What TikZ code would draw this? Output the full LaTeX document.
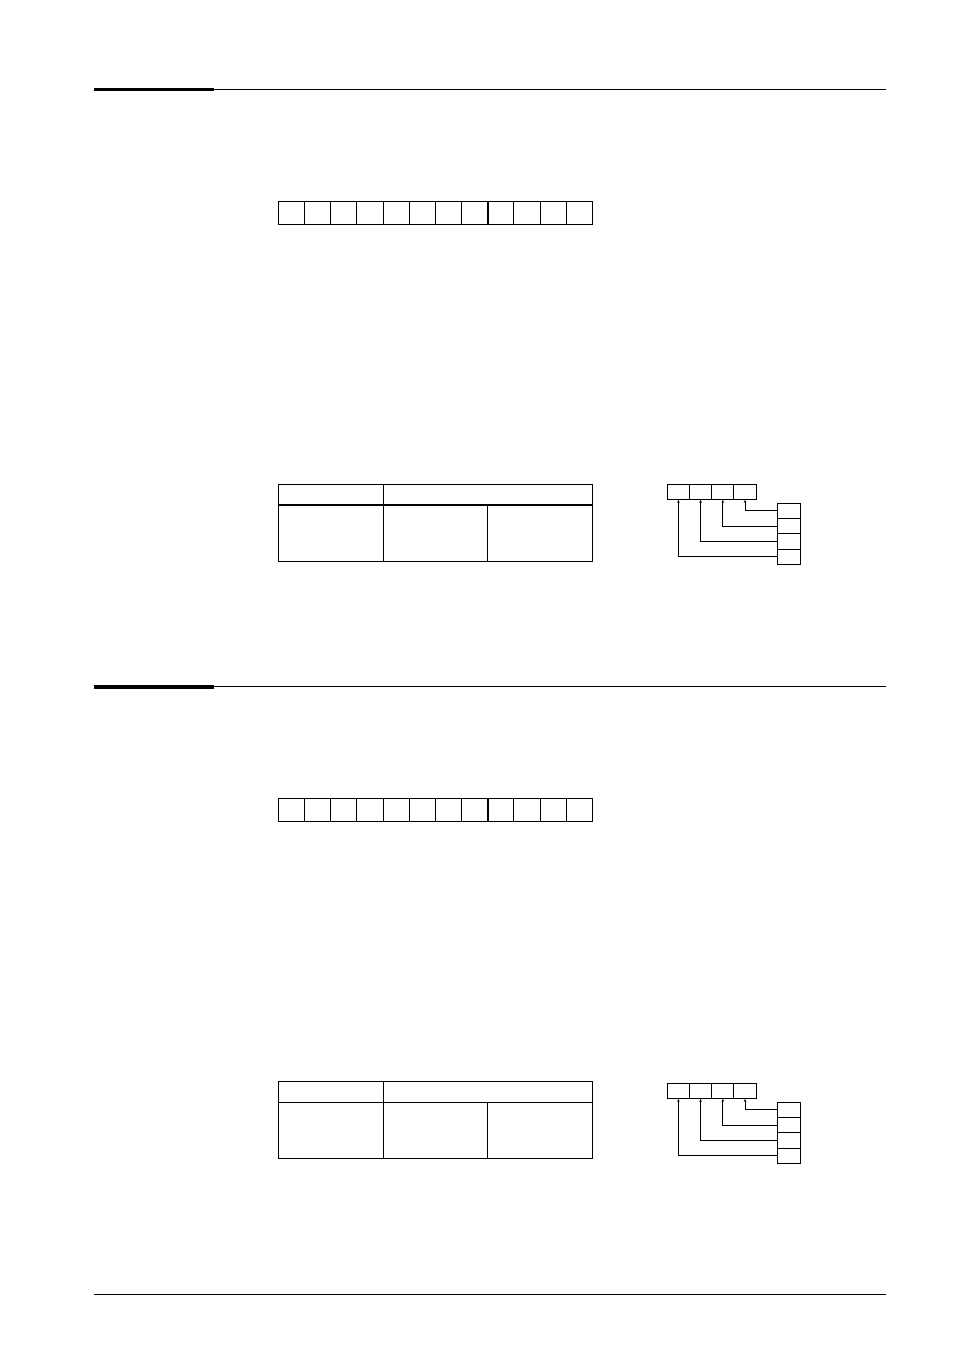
\documentclass[tikz,border=0pt]{standalone}
\usetikzlibrary{arrows.meta}
\begin{document}
\begin{tikzpicture}[x=1pt,y=-1pt,
  thin line/.style={line width=0.9pt},
  thick bar/.style={line width=3.6pt},
  cellbox/.style={draw,line width=0.9pt,minimum width=26.17pt,minimum height=22.7pt,inner sep=0pt,outer sep=0pt},
  smallbox/.style={draw,line width=0.9pt,minimum width=22.2pt,minimum height=15.6pt,inner sep=0pt,outer sep=0pt},
  stackbox/.style={draw,line width=0.9pt,minimum width=22.6pt,minimum height=15.25pt,inner sep=0pt,outer sep=0pt},
  link/.style={line width=0.9pt,-{Stealth[length=3pt,width=2.6pt]}}]
\useasboundingbox (0,0) rectangle (954,1346);
\fill[white] (0,0) rectangle (954,1346);

% ---------- one section ----------
\newcommand{\drawsection}[3]{%
  % #1 = heading y offset, #2 = name prefix, #3 = small-diagram extra offset
  \begin{scope}[yshift=-#1pt]
  % heading rule
  \draw[thin line] (214,89) -- (886,89);
  \draw[thick bar] (94,89.6) -- (214,89.6);
  % register row
  \foreach \i in {0,...,11}{
    \node[cellbox,anchor=north west] (#2r\i) at (278.3+26.17*\i,201.3) {};
  }
  \draw[line width=2pt] (#2r8.north west) -- (#2r8.south west);
  % table
  \coordinate (#2tA) at (278.3,484.3);
  \coordinate (#2tB) at (592.5,561.3);
  \draw[thin line] (#2tA) rectangle (#2tB);
  \draw[line width=1.8pt] (278.3,505) -- (592.5,505);
  \draw[thin line] (383.3,484.3) -- (383.3,561.3);
  \draw[thin line] (487.7,505) -- (487.7,561.3);
  \end{scope}
  \begin{scope}[yshift=-#3pt]
  % small diagram
  \foreach \i in {0,...,3}{
    \node[smallbox,anchor=north west] (#2s\i) at (667.3+22.2*\i,484.3) {};
  }
  \foreach \j in {0,...,3}{
    \node[stackbox,anchor=north west] (#2k\j) at (777.7,503.3+15.25*\j) {};
  }
  \draw[link] (#2k0.west) -| (#2s3.south);
  \draw[link] (#2k1.west) -| (#2s2.south);
  \draw[link] (#2k2.west) -| (#2s1.south);
  \draw[link] (#2k3.west) -| (#2s0.south);
  \end{scope}
}

\drawsection{0}{a}{0}
\drawsection{597.5}{b}{599}

% footer rule
\draw[thin line] (94,1294) -- (886,1294);
\end{tikzpicture}
\end{document}
